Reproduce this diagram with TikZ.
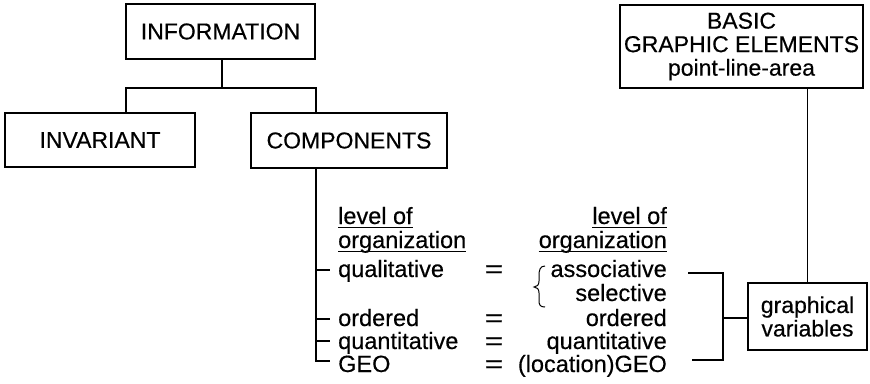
\documentclass[tikz,border=0pt]{standalone}
\usepackage{fontspec}
\setmainfont[FakeBold=0.4]{Liberation Sans}
\begin{document}
\begin{tikzpicture}[x=1pt,y=-1pt,
  box/.style={draw,line width=2.2pt,inner sep=0pt,align=center,
    font=\fontsize{23}{23.5}\selectfont},
  wire/.style={line width=1.1pt},
  lbl/.style={inner sep=0pt,font=\fontsize{23.5}{24}\selectfont},
  lcol/.style={lbl,anchor=base west},
  rcol/.style={lbl,anchor=base east},
  eqs/.style={lbl,anchor=base,xscale=1.35,transform shape}]
\useasboundingbox (0,0) rectangle (870,383);

% boxes
\node[box,minimum width=189pt,minimum height=55pt] (info) at (220.5,31.5) {INFORMATION};
\node[box,minimum width=190pt,minimum height=54pt] (inv) at (100,140) {INVARIANT};
\node[box,minimum width=196pt,minimum height=55pt] (comp) at (349,140.5) {COMPONENTS};
\node[box,minimum width=243pt,minimum height=83pt] (basic) at (741.5,46.5)
  {BASIC\\GRAPHIC ELEMENTS\\point-line-area};
\node[box,minimum width=119pt,minimum height=67pt] (gv) at (807.5,316.5)
  {graphical\\variables};

% tree below INFORMATION
\coordinate (split) at (222,88);
\draw[wire] (info.south -| split) -- (split);
\draw[wire] (inv.north -| 126,0) |- (split) -| (comp.north -| 316,0);

% BASIC GRAPHIC ELEMENTS to graphical variables
\draw[wire] (basic.south -| gv.north) -- (gv.north);

% left column
\node[lcol] (lh1) at (338,224) {level of};
\node[lcol] (lh2) at (338,248) {organization};
\node[lcol] (qual) at (338,277) {qualitative};
\node[lcol] (ord) at (338,326) {ordered};
\node[lcol] (quan) at (338,349) {quantitative};
\node[lcol] (geo) at (338,372) {GEO};

% equals signs
\node[eqs] (e1) at (494,277) {=};
\node[eqs] (e2) at (494,326) {=};
\node[eqs] (e3) at (494,349) {=};
\node[eqs] (e4) at (494,372) {=};

% right column
\node[rcol] (rh1) at (667,224) {level of};
\node[rcol] (rh2) at (667,248) {organization};
\node[rcol] (assoc) at (667,277) {associative};
\node[rcol] (sel) at (667,301) {selective};
\node[rcol] (rord) at (667,326) {ordered};
\node[rcol] (rquan) at (667,349) {quantitative};
\node[rcol] (rgeo) at (667,372) {(location)GEO};

% underlined headings
\foreach \n in {lh1,lh2,rh1,rh2}
  \draw[line width=1pt] ([yshift=-3pt]\n.base west) -- ([yshift=-3pt]\n.base east);

% stem with ticks
\coordinate (stemEnd) at (316,361);
\draw[wire] (comp.south -| stemEnd) -- (stemEnd) -- ([xshift=-8pt]stemEnd -| geo.west);
\foreach \n/\y in {qual/270,ord/319,quan/341}
  \draw[wire] (316,\y) -- ([xshift=-8pt]\n.west |- 0,\y);

% curly brace before associative / selective
\draw[line width=1pt] (545,266) .. controls (540,266) and (539,270) .. (539,276)
  -- (539,281) .. controls (539,285) and (537,287) .. (534,287)
  .. controls (537,287) and (539,289) .. (539,293)
  -- (539,300) .. controls (539,305) and (540,307) .. (545,307);

% bracket gathering into graphical variables
\coordinate (bTop) at (723,273);
\coordinate (bBot) at (723,360);
\coordinate (bMid) at (723,318);
\draw[wire] ([xshift=21pt]assoc.east |- bTop) -- (bTop) -- (bBot) -- ([xshift=25pt]rgeo.east |- bBot);
\draw[wire] (bMid) -- (gv.west |- bMid);
\end{tikzpicture}
\end{document}
